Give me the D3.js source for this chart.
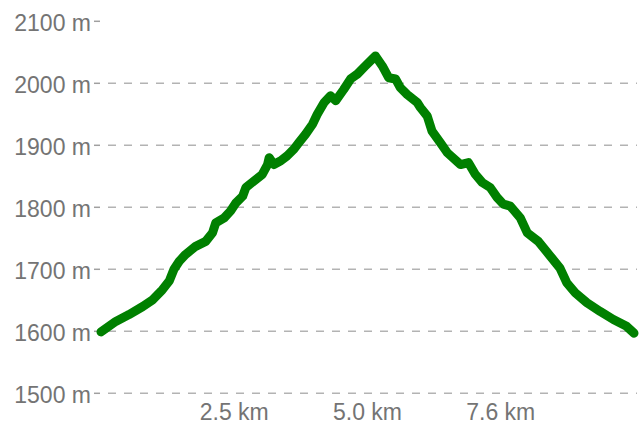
<!DOCTYPE html>
<html>
<head>
<meta charset="utf-8">
<script src="https://cdn.jsdelivr.net/npm/d3@7"></script>
<style>
html,body{margin:0;padding:0;background:#fff;}
svg{display:block;}
text{font-family:"Liberation Sans",Arial,Helvetica,sans-serif;}
</style>
</head>
<body>
<svg id="chart" width="642" height="424"></svg>
<script>
// Distance along route (km)
const distanceKm = [0,0.28,0.53,0.79,0.98,1.16,1.29,1.38,1.48,1.60,1.79,1.98,2.11,2.17,2.33,2.45,2.55,2.68,2.74,2.93,3.05,3.15,3.18,3.27,3.40,3.52,3.65,3.74,3.87,4.00,4.09,4.22,4.34,4.44,4.59,4.72,4.85,5.00,5.19,5.32,5.44,5.57,5.66,5.79,5.98,6.04,6.17,6.26,6.42,6.55,6.80,6.95,7.08,7.21,7.36,7.49,7.61,7.74,7.93,8.06,8.27,8.50,8.68,8.81,8.97,9.19,9.44,9.69,9.94,10.08];
// Elevation (m)
const elevationM = [1599,1616,1627,1640,1651,1667,1681,1700,1713,1724,1737,1745,1759,1775,1783,1794,1807,1818,1832,1845,1853,1869,1880,1869,1875,1883,1894,1904,1918,1934,1950,1969,1980,1972,1990,2007,2015,2028,2044,2028,2009,2007,1993,1982,1969,1961,1947,1923,1904,1888,1869,1872,1853,1840,1832,1816,1805,1802,1783,1759,1745,1721,1702,1678,1662,1646,1632,1619,1608,1597];
const totalKm = 10.08;
const yTicks = [1500,1600,1700,1800,1900,2000,2100];
const xTicks = [totalKm/4, totalKm/2, totalKm*3/4];

const svg = d3.select("#chart");
const x = d3.scaleLinear().domain([0,totalKm]).range([101,634]);
const y = d3.scaleLinear().domain([1500,2100]).range([393.3,21.3]);

// grid lines (not for top tick)
svg.append("g").selectAll("line").data(yTicks.filter(d=>d<2100)).join("line")
  .attr("x1",108).attr("x2",637)
  .attr("y1",d=>y(d)).attr("y2",d=>y(d))
  .attr("stroke","#b3b3b3").attr("stroke-width",1.5).attr("stroke-dasharray","8,8");

// y tick marks
svg.append("g").selectAll("line").data(yTicks).join("line")
  .attr("x1",94).attr("x2",100)
  .attr("y1",d=>y(d)).attr("y2",d=>y(d))
  .attr("stroke","#a0a0a0").attr("stroke-width",1.5);

// y labels
svg.append("g").selectAll("text").data(yTicks).join("text")
  .attr("x",91).attr("y",d=>y(d)+9.5)
  .attr("text-anchor","end").attr("font-size",23).attr("fill","#747474")
  .text(d=>d+" m");

// x labels
svg.append("g").selectAll("text").data(xTicks).join("text")
  .attr("x",d=>x(d)).attr("y",420)
  .attr("text-anchor","middle").attr("font-size",23).attr("fill","#747474")
  .text(d=>d.toFixed(1)+" km");

// profile line
const pts = distanceKm.map((d,i)=>[d,elevationM[i]]);
svg.append("path").datum(pts)
  .attr("fill","none").attr("stroke","#008000").attr("stroke-width",9)
  .attr("stroke-linejoin","round").attr("stroke-linecap","round")
  .attr("d",d3.line().x(d=>x(d[0])).y(d=>y(d[1])));
</script>
</body>
</html>
